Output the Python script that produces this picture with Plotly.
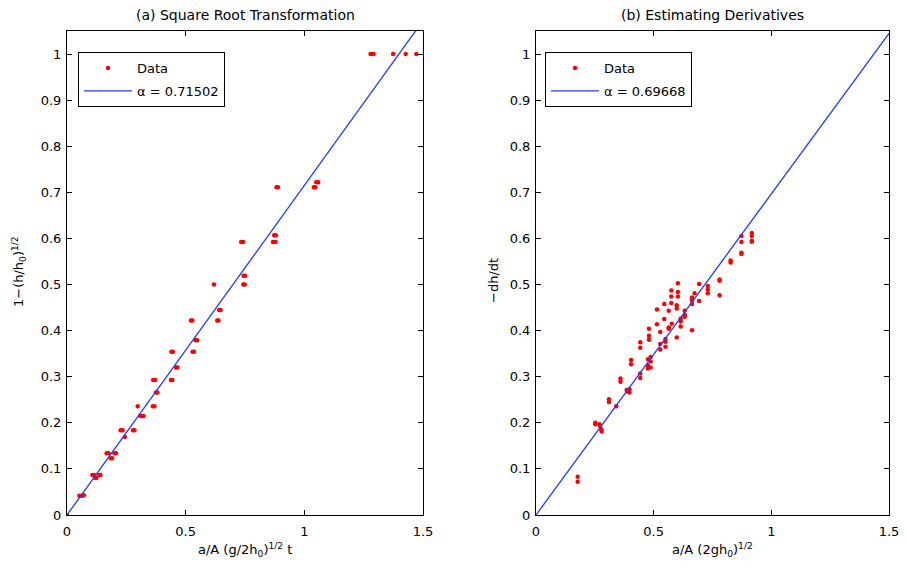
import plotly.graph_objects as go

# (a) square-root transformation: data points and fitted line slope
sq_x = [0.0,
        0.052, 0.062, 0.071,
        0.107, 0.115, 0.119, 0.124, 0.136, 0.141,
        0.167, 0.175, 0.184, 0.190, 0.200, 0.206,
        0.226, 0.234, 0.244, 0.278, 0.284,
        0.298, 0.308, 0.316, 0.322, 0.362, 0.368,
        0.363, 0.371, 0.375, 0.381, 0.438, 0.444,
        0.440, 0.446, 0.459, 0.465, 0.529, 0.535, 0.542, 0.548,
        0.522, 0.528, 0.619, 0.633, 0.638, 0.641, 0.647,
        0.734, 0.742, 0.744, 0.750, 0.743, 0.749,
        0.868, 0.878, 0.873, 0.880, 0.883, 0.889,
        1.040, 1.046, 1.050, 1.058,
        1.279, 1.285, 1.292, 1.374, 1.427, 1.472]
sq_y = [0.0,
        0.042, 0.042, 0.043,
        0.087, 0.087, 0.080, 0.080, 0.087, 0.087,
        0.134, 0.134, 0.123, 0.123, 0.134, 0.134,
        0.184, 0.184, 0.169, 0.184, 0.184,
        0.236, 0.215, 0.215, 0.215, 0.236, 0.236,
        0.293, 0.293, 0.266, 0.266, 0.293, 0.293,
        0.354, 0.354, 0.320, 0.320, 0.354, 0.354, 0.379, 0.379,
        0.422, 0.422, 0.500, 0.422, 0.422, 0.445, 0.445,
        0.592, 0.592, 0.519, 0.519, 0.500, 0.500,
        0.592, 0.592, 0.607, 0.607, 0.711, 0.711,
        0.711, 0.711, 0.722, 0.722,
        1.0, 1.0, 1.0, 1.0, 1.0, 1.0]
alpha_a = 0.71502

# (b) estimated derivatives: data points and fitted line slope
dv_x = [0.177, 0.177,
        0.252, 0.252, 0.270, 0.272, 0.277, 0.279,
        0.310, 0.310, 0.341, 0.359, 0.359,
        0.385, 0.390, 0.397, 0.397,
        0.404, 0.404, 0.443, 0.443, 0.443, 0.443,
        0.480, 0.480, 0.480, 0.476, 0.475, 0.475,
        0.487, 0.487, 0.487,
        0.514, 0.514, 0.528, 0.528, 0.528,
        0.545, 0.545, 0.550, 0.550, 0.550,
        0.564, 0.564, 0.564, 0.575, 0.575, 0.575, 0.577,
        0.598, 0.598, 0.598, 0.603, 0.603, 0.603,
        0.615, 0.615, 0.615, 0.632, 0.632, 0.632,
        0.663, 0.663, 0.663, 0.663, 0.674,
        0.693, 0.693, 0.730, 0.730, 0.730,
        0.780, 0.780, 0.780, 0.827, 0.827,
        0.873, 0.873, 0.873, 0.873,
        0.917, 0.917, 0.917, 0.917]
dv_y = [0.083, 0.072,
        0.200, 0.197, 0.197, 0.193, 0.186, 0.181,
        0.251, 0.245, 0.236, 0.296, 0.289,
        0.271, 0.268, 0.266, 0.273,
        0.336, 0.327, 0.375, 0.363, 0.307, 0.297,
        0.404, 0.389, 0.380, 0.338, 0.325, 0.318,
        0.343, 0.333, 0.320,
        0.446, 0.414, 0.397, 0.371, 0.359,
        0.458, 0.425, 0.382, 0.376, 0.365,
        0.443, 0.407, 0.404, 0.487, 0.474, 0.460, 0.415,
        0.455, 0.448, 0.385, 0.503, 0.484, 0.474,
        0.426, 0.420, 0.409, 0.443, 0.434, 0.430,
        0.472, 0.466, 0.458, 0.401, 0.481,
        0.501, 0.464, 0.497, 0.489, 0.481,
        0.511, 0.508, 0.477, 0.552, 0.548,
        0.605, 0.592, 0.569, 0.566,
        0.612, 0.605, 0.595, 0.593]
alpha_b = 0.69668

x_ticks = [0, 0.5, 1, 1.5]
y_ticks = [0, 0.1, 0.2, 0.3, 0.4, 0.5, 0.6, 0.7, 0.8, 0.9, 1]
fit_x = [0, 1.5]

FONT = "DejaVu Sans, Liberation Sans, Arial, sans-serif"
RED = "#ff0000"
BLUE = "#1f3cff"
FS = 13

fig = go.Figure()

fig.add_trace(go.Scatter(x=sq_x, y=sq_y, mode="markers", name="Data",
                         marker=dict(color=RED, size=4.5),
                         xaxis="x", yaxis="y", legend="legend", legendgroup="a_data"))
fig.add_trace(go.Scatter(x=fit_x, y=[alpha_a * v for v in fit_x], mode="lines",
                         name=f"\u03b1 = {alpha_a:.5f}",
                         line=dict(color=BLUE, width=1.3),
                         xaxis="x", yaxis="y", legend="legend", legendgroup="a_fit"))
fig.add_trace(go.Scatter(x=dv_x, y=dv_y, mode="markers", name="Data",
                         marker=dict(color=RED, size=4.5),
                         xaxis="x2", yaxis="y2", legend="legend2", legendgroup="b_data"))
fig.add_trace(go.Scatter(x=fit_x, y=[alpha_b * v for v in fit_x], mode="lines",
                         name=f"\u03b1 = {alpha_b:.5f}",
                         line=dict(color=BLUE, width=1.3),
                         xaxis="x2", yaxis="y2", legend="legend2", legendgroup="b_fit"))

W, H = 907, 568
left_dom = [67 / W, 423 / W]
right_dom = [536 / W, 889 / W]
y_dom = [(H - 515) / H, (H - 31) / H]

axis_common = dict(showgrid=False, zeroline=False, showline=True,
                   linecolor="black", linewidth=1, mirror="ticks",
                   ticks="inside", ticklen=5, tickcolor="black",
                   automargin=False,
                   tickfont=dict(family=FONT, size=FS, color="black"))
x_common = dict(range=[0, 1.5], tickvals=x_ticks,
                ticktext=[f"{v:g}" for v in x_ticks], ticklabelstandoff=4,
                **axis_common)
y_common = dict(domain=y_dom, range=[0, 1.05], tickvals=y_ticks,
                ticktext=[f"{v:g}" for v in y_ticks], ticklabelstandoff=2,
                **axis_common)

legend_common = dict(yanchor="top", xanchor="left", y=(H - 52) / H,
                     bordercolor="black", borderwidth=1, bgcolor="white",
                     font=dict(family=FONT, size=FS, color="black"),
                     tracegroupgap=3, itemwidth=48, traceorder="grouped")

fig.update_layout(
    width=W, height=H,
    margin=dict(l=0, r=0, t=0, b=0),
    paper_bgcolor="white", plot_bgcolor="white",
    font=dict(family=FONT, size=FS, color="black"),
    xaxis=dict(domain=left_dom, anchor="y", **x_common),
    yaxis=dict(anchor="x", **y_common),
    xaxis2=dict(domain=right_dom, anchor="y2", **x_common),
    yaxis2=dict(anchor="x2", **y_common),
    legend=dict(x=78 / W, **legend_common),
    legend2=dict(x=545 / W, **legend_common),
    showlegend=True,
)

ann = [
    dict(text="(a) Square Root Transformation", x=(67 + 423) / 2 / W, y=(H - 15) / H, size=14),
    dict(text="(b) Estimating Derivatives", x=(536 + 889) / 2 / W, y=(H - 15) / H, size=14),
    dict(text="a/A (g/2h<sub>0</sub>)<sup>1/2</sup> t", x=(67 + 423) / 2 / W, y=(H - 550) / H, size=FS),
    dict(text="a/A (2gh<sub>0</sub>)<sup>1/2</sup>", x=(536 + 889) / 2 / W, y=(H - 550) / H, size=FS),
    dict(text="1\u2212(h/h<sub>0</sub>)<sup>1/2</sup>", x=19 / W, y=(H - 272) / H, size=FS, textangle=-90),
    dict(text="\u2212dh/dt", x=493 / W, y=(H - 280) / H, size=FS, textangle=-90),
]
for a in ann:
    size = a.pop("size")
    fig.add_annotation(xref="paper", yref="paper", showarrow=False,
                       xanchor="center", yanchor="middle",
                       font=dict(family=FONT, size=size, color="black"), **a)

fig.write_html("out.html")
